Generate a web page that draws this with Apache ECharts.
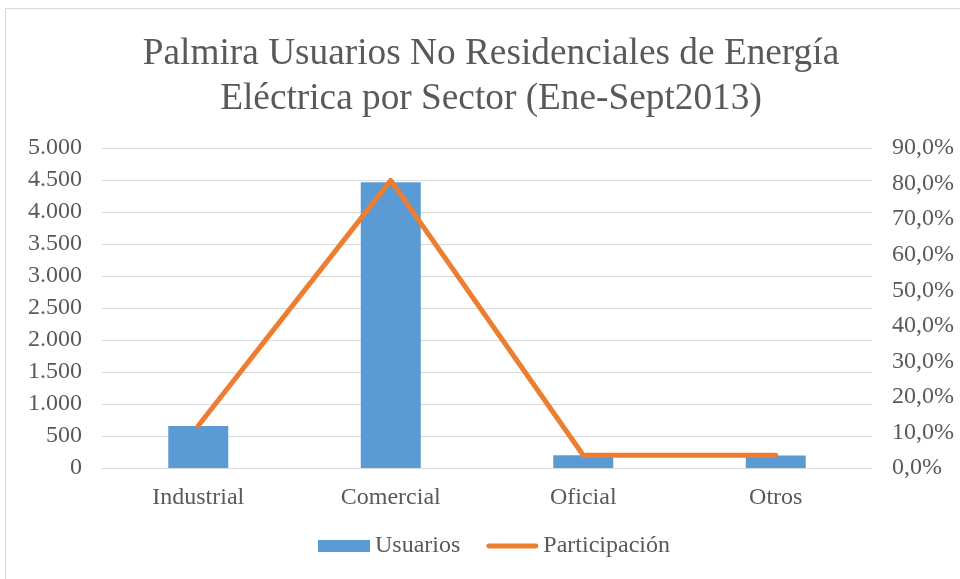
<!doctype html>
<html>
<head>
    <meta charset="utf-8">
    <title>Palmira Usuarios No Residenciales</title>
    <script src="https://cdn.jsdelivr.net/npm/echarts@6/dist/echarts.min.js"></script>
    <style>
        body { margin: 0; background: #fff; }
        #chart { width: 960px; height: 579px; }
    </style>
</head>
<body>
<div id="chart"></div>
<script type="text/javascript">

    var sectores = ['Industrial', 'Comercial', 'Oficial', 'Otros'];
    var usuarios = [656, 4464, 198, 196];
    var participacion = [11.9, 80.9, 3.6, 3.6];

    var fuente = '"Liberation Serif", "Times New Roman", serif';
    var gris = '#595959';

    function miles(v) {
        return String(v).replace(/\B(?=(\d{3})+(?!\d))/g, '.');
    }

    var myChart = echarts.init(document.getElementById('chart'));

    var option = {
        backgroundColor: '#fff',
        textStyle: { fontFamily: fuente },
        graphic: [{
            type: 'rect',
            shape: { x: 5.5, y: 8.5, width: 960, height: 575 },
            style: { fill: 'none', stroke: '#D9D9D9', lineWidth: 1 },
            silent: true
        }],
        title: {
            text: 'Palmira Usuarios No Residenciales de Energía\nEléctrica por Sector (Ene-Sept2013)',
            left: 486,
            textAlign: 'center',
            top: 27,
            textStyle: {
                fontFamily: fuente,
                fontWeight: 'normal',
                fontSize: 37.3,
                lineHeight: 45,
                color: gris
            }
        },
        legend: {
            bottom: 16,
            left: 313,
            itemGap: 26,
            itemWidth: 52,
            itemHeight: 12,
            textStyle: { fontFamily: fuente, fontSize: 24, color: gris },
            data: [
                { name: 'Usuarios', icon: 'rect' },
                { name: 'Participación', icon: 'path://M2,0 L50,0 A2.5,2.5 0 0 1 50,5 L2,5 A2.5,2.5 0 0 1 2,0 Z' }
            ]
        },
        grid: {
            left: 102,
            right: 88,
            top: 148,
            bottom: 111,
            containLabel: false
        },
        xAxis: {
            type: 'category',
            data: sectores,
            axisTick: { show: false },
            axisLine: { lineStyle: { color: '#D9D9D9', width: 1 } },
            axisLabel: { fontFamily: fuente, fontSize: 24, color: gris, margin: 18 }
        },
        yAxis: [{
            type: 'value',
            min: 0,
            max: 5000,
            interval: 500,
            axisLine: { show: false },
            axisTick: { show: false },
            splitLine: { lineStyle: { color: '#D9D9D9', width: 1 } },
            axisLabel: {
                fontFamily: fuente, fontSize: 24, color: gris, margin: 20,
                formatter: function (v) { return miles(v); }
            }
        }, {
            type: 'value',
            min: 0,
            max: 90,
            interval: 10,
            axisLine: { show: false },
            axisTick: { show: false },
            splitLine: { show: false },
            axisLabel: {
                fontFamily: fuente, fontSize: 24, color: gris, margin: 20,
                formatter: function (v) { return v.toFixed(1).replace('.', ',') + '%'; }
            }
        }],
        series: [{
            name: 'Usuarios',
            type: 'bar',
            data: usuarios,
            barWidth: 60,
            itemStyle: { color: '#5B9BD5' }
        }, {
            name: 'Participación',
            type: 'line',
            yAxisIndex: 1,
            data: participacion,
            symbol: 'none',
            lineStyle: { color: '#ED7D31', width: 5, cap: 'round', join: 'round' },
            itemStyle: { color: '#ED7D31' }
        }]
    };

    myChart.setOption(option);

</script>

</body>
</html>
